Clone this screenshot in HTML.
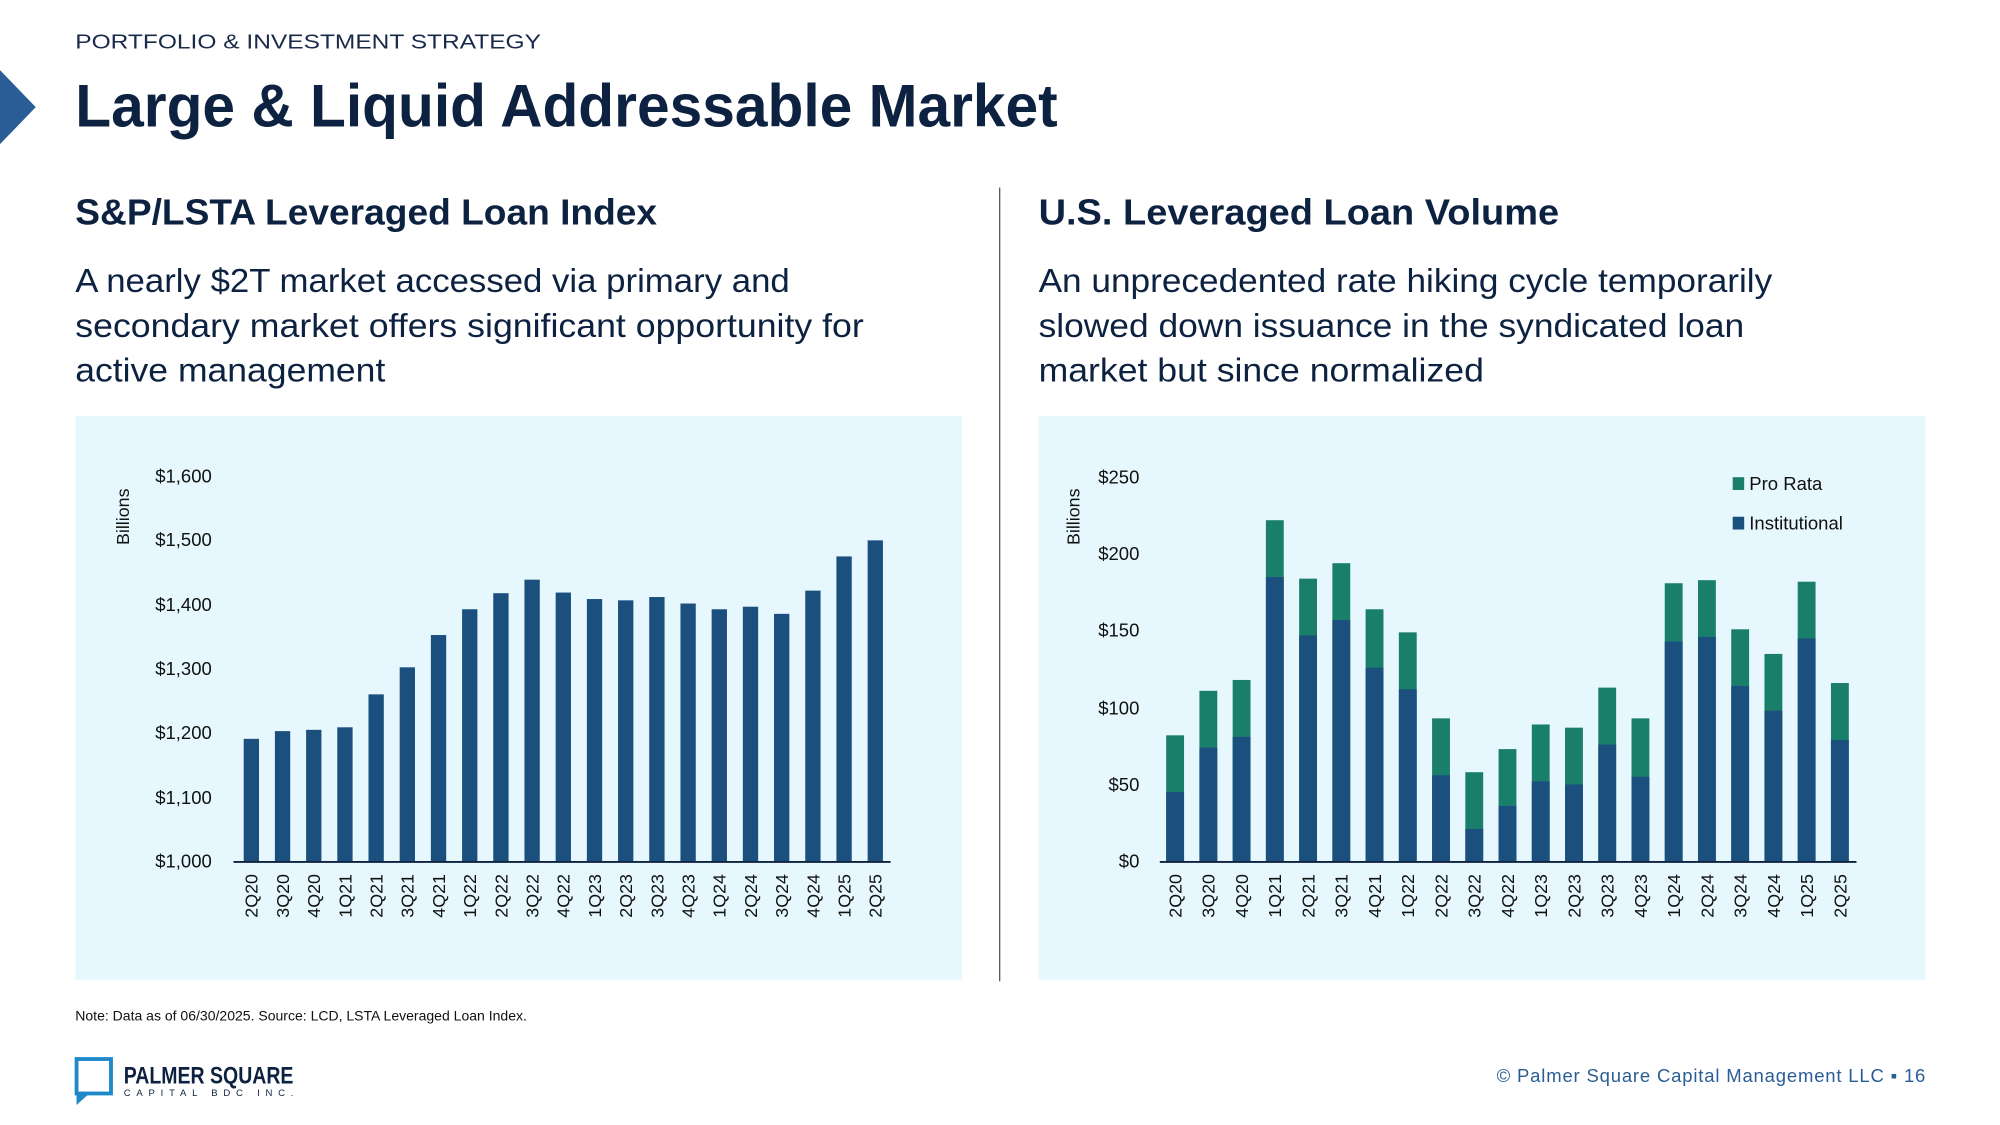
<!DOCTYPE html>
<html><head><meta charset="utf-8"><style>
html,body{margin:0;padding:0;background:#fff;width:2000px;height:1125px;overflow:hidden}
svg{display:block}
text{font-family:"Liberation Sans",sans-serif}
</style></head><body>
<svg width="2000" height="1125" viewBox="0 0 1567.5 881.7" preserveAspectRatio="none" xmlns="http://www.w3.org/2000/svg">
<rect width="1567.5" height="881.7" fill="#fff"/>
<polygon points="0,55 28,84 0,113" fill="#2a5d95"/>
<text x="59" y="38" font-size="16" fill="#1a2a4a" textLength="365" lengthAdjust="spacingAndGlyphs">PORTFOLIO &amp; INVESTMENT STRATEGY</text>
<text x="59" y="99" font-size="47" font-weight="bold" fill="#0d2240" textLength="770" lengthAdjust="spacingAndGlyphs">Large &amp; Liquid Addressable Market</text>
<text x="59" y="176" font-size="28" font-weight="bold" fill="#0d2240" textLength="456" lengthAdjust="spacingAndGlyphs">S&amp;P/LSTA Leveraged Loan Index</text>
<text x="814" y="176" font-size="28" font-weight="bold" fill="#0d2240" textLength="408" lengthAdjust="spacingAndGlyphs">U.S. Leveraged Loan Volume</text>
<g font-size="26" fill="#0d2240">
<text x="59" y="229" textLength="560" lengthAdjust="spacingAndGlyphs">A nearly $2T market accessed via primary and</text>
<text x="59" y="264" textLength="618" lengthAdjust="spacingAndGlyphs">secondary market offers significant opportunity for</text>
<text x="59" y="299" textLength="243" lengthAdjust="spacingAndGlyphs">active management</text>
<text x="814" y="229" textLength="575" lengthAdjust="spacingAndGlyphs">An unprecedented rate hiking cycle temporarily</text>
<text x="814" y="264" textLength="553" lengthAdjust="spacingAndGlyphs">slowed down issuance in the syndicated loan</text>
<text x="814" y="299" textLength="349" lengthAdjust="spacingAndGlyphs">market but since normalized</text>
</g>
<line x1="783.5" y1="147" x2="783.5" y2="769" stroke="#555" stroke-width="1"/>
<rect x="59" y="326" width="695" height="442" fill="#e6f8fd"/>
<rect x="814" y="326" width="695" height="442" fill="#e6f8fd"/>

<!-- left chart -->
<g font-size="14.5" fill="#111" text-anchor="end">
<text x="166" y="378">$1,600</text><text x="166" y="428">$1,500</text><text x="166" y="479">$1,400</text>
<text x="166" y="529">$1,300</text><text x="166" y="579">$1,200</text><text x="166" y="630">$1,100</text><text x="166" y="680">$1,000</text>
</g>
<text transform="translate(101,405) rotate(-90)" font-size="14" fill="#111" text-anchor="middle">Billions</text>
<g fill="#1b4f7e">
<rect x="191" y="579.05" width="12" height="95.95"/><rect x="215.45" y="573" width="12" height="102"/>
<rect x="239.9" y="572" width="12" height="103"/><rect x="264.35" y="570" width="12" height="105"/>
<rect x="288.8" y="544.2" width="12" height="130.8"/><rect x="313.25" y="523" width="12" height="152"/>
<rect x="337.7" y="497.7" width="12" height="177.3"/><rect x="362.15" y="477.5" width="12" height="197.5"/>
<rect x="386.6" y="464.9" width="12" height="210.1"/><rect x="411.05" y="454.3" width="12" height="220.7"/>
<rect x="435.5" y="464.4" width="12" height="210.6"/><rect x="459.95" y="469.5" width="12" height="205.5"/>
<rect x="484.4" y="470.5" width="12" height="204.5"/><rect x="508.85" y="467.9" width="12" height="207.1"/>
<rect x="533.3" y="473" width="12" height="202"/><rect x="557.75" y="477.5" width="12" height="197.5"/>
<rect x="582.2" y="475.5" width="12" height="199.5"/><rect x="606.65" y="481.1" width="12" height="193.9"/>
<rect x="631.1" y="462.9" width="12" height="212.1"/><rect x="655.55" y="436.1" width="12" height="238.9"/>
<rect x="680" y="423.5" width="12" height="251.5"/>
</g>
<line x1="183" y1="675.5" x2="698" y2="675.5" stroke="#0d2240" stroke-width="1.5"/>
<g font-size="14" fill="#111" text-anchor="end">
<text transform="translate(202,685) rotate(-90)">2Q20</text><text transform="translate(226.45,685) rotate(-90)">3Q20</text>
<text transform="translate(250.9,685) rotate(-90)">4Q20</text><text transform="translate(275.35,685) rotate(-90)">1Q21</text>
<text transform="translate(299.8,685) rotate(-90)">2Q21</text><text transform="translate(324.25,685) rotate(-90)">3Q21</text>
<text transform="translate(348.7,685) rotate(-90)">4Q21</text><text transform="translate(373.15,685) rotate(-90)">1Q22</text>
<text transform="translate(397.6,685) rotate(-90)">2Q22</text><text transform="translate(422.05,685) rotate(-90)">3Q22</text>
<text transform="translate(446.5,685) rotate(-90)">4Q22</text><text transform="translate(470.95,685) rotate(-90)">1Q23</text>
<text transform="translate(495.4,685) rotate(-90)">2Q23</text><text transform="translate(519.85,685) rotate(-90)">3Q23</text>
<text transform="translate(544.3,685) rotate(-90)">4Q23</text><text transform="translate(568.75,685) rotate(-90)">1Q24</text>
<text transform="translate(593.2,685) rotate(-90)">2Q24</text><text transform="translate(617.65,685) rotate(-90)">3Q24</text>
<text transform="translate(642.1,685) rotate(-90)">4Q24</text><text transform="translate(666.55,685) rotate(-90)">1Q25</text>
<text transform="translate(691,685) rotate(-90)">2Q25</text>
</g>

<!-- right chart -->
<g font-size="14.5" fill="#111" text-anchor="end">
<text x="893" y="379">$250</text><text x="893" y="439">$200</text><text x="893" y="499">$150</text>
<text x="893" y="560">$100</text><text x="893" y="620">$50</text><text x="893" y="680">$0</text>
</g>
<text transform="translate(846,405) rotate(-90)" font-size="14" fill="#111" text-anchor="middle">Billions</text>
<g fill="#1a7f6a">
<rect x="914" y="576.3" width="14" height="98.7"/><rect x="940.05" y="541.4" width="14" height="133.6"/>
<rect x="966.1" y="532.9" width="14" height="142.1"/><rect x="992.15" y="407.7" width="14" height="267.3"/>
<rect x="1018.2" y="453.5" width="14" height="221.5"/><rect x="1044.25" y="441.4" width="14" height="233.6"/>
<rect x="1070.3" y="477.5" width="14" height="197.5"/><rect x="1096.35" y="495.6" width="14" height="179.4"/>
<rect x="1122.4" y="563" width="14" height="112"/><rect x="1148.45" y="605.2" width="14" height="69.8"/>
<rect x="1174.5" y="587.1" width="14" height="87.9"/><rect x="1200.55" y="567.8" width="14" height="107.2"/>
<rect x="1226.6" y="570.3" width="14" height="104.7"/><rect x="1252.65" y="538.9" width="14" height="136.1"/>
<rect x="1278.7" y="563" width="14" height="112"/><rect x="1304.75" y="457.1" width="14" height="217.9"/>
<rect x="1330.8" y="454.7" width="14" height="220.3"/><rect x="1356.85" y="493.2" width="14" height="181.8"/>
<rect x="1382.9" y="512.5" width="14" height="162.5"/><rect x="1408.95" y="455.9" width="14" height="219.1"/>
<rect x="1435" y="535.3" width="14" height="139.7"/>
</g>
<g fill="#1b4f7e">
<rect x="914" y="620.8" width="14" height="54.2"/><rect x="940.05" y="585.9" width="14" height="89.1"/>
<rect x="966.1" y="577.5" width="14" height="97.5"/><rect x="992.15" y="452.3" width="14" height="222.7"/>
<rect x="1018.2" y="498" width="14" height="177"/><rect x="1044.25" y="486" width="14" height="189"/>
<rect x="1070.3" y="523.3" width="14" height="151.7"/><rect x="1096.35" y="540.2" width="14" height="134.8"/>
<rect x="1122.4" y="607.6" width="14" height="67.4"/><rect x="1148.45" y="649.7" width="14" height="25.3"/>
<rect x="1174.5" y="631.7" width="14" height="43.3"/><rect x="1200.55" y="612.4" width="14" height="62.6"/>
<rect x="1226.6" y="614.8" width="14" height="60.2"/><rect x="1252.65" y="583.5" width="14" height="91.5"/>
<rect x="1278.7" y="608.8" width="14" height="66.2"/><rect x="1304.75" y="502.8" width="14" height="172.2"/>
<rect x="1330.8" y="499.2" width="14" height="175.8"/><rect x="1356.85" y="537.7" width="14" height="137.3"/>
<rect x="1382.9" y="557" width="14" height="118"/><rect x="1408.95" y="500.4" width="14" height="174.6"/>
<rect x="1435" y="579.9" width="14" height="95.1"/>
</g>
<line x1="909" y1="675.5" x2="1455" y2="675.5" stroke="#0d2240" stroke-width="1.5"/>
<g font-size="14" fill="#111" text-anchor="end">
<text transform="translate(926,685) rotate(-90)">2Q20</text><text transform="translate(952.05,685) rotate(-90)">3Q20</text>
<text transform="translate(978.1,685) rotate(-90)">4Q20</text><text transform="translate(1004.15,685) rotate(-90)">1Q21</text>
<text transform="translate(1030.2,685) rotate(-90)">2Q21</text><text transform="translate(1056.25,685) rotate(-90)">3Q21</text>
<text transform="translate(1082.3,685) rotate(-90)">4Q21</text><text transform="translate(1108.35,685) rotate(-90)">1Q22</text>
<text transform="translate(1134.4,685) rotate(-90)">2Q22</text><text transform="translate(1160.45,685) rotate(-90)">3Q22</text>
<text transform="translate(1186.5,685) rotate(-90)">4Q22</text><text transform="translate(1212.55,685) rotate(-90)">1Q23</text>
<text transform="translate(1238.6,685) rotate(-90)">2Q23</text><text transform="translate(1264.65,685) rotate(-90)">3Q23</text>
<text transform="translate(1290.7,685) rotate(-90)">4Q23</text><text transform="translate(1316.75,685) rotate(-90)">1Q24</text>
<text transform="translate(1342.8,685) rotate(-90)">2Q24</text><text transform="translate(1368.85,685) rotate(-90)">3Q24</text>
<text transform="translate(1394.9,685) rotate(-90)">4Q24</text><text transform="translate(1420.95,685) rotate(-90)">1Q25</text>
<text transform="translate(1447,685) rotate(-90)">2Q25</text>
</g>
<rect x="1358" y="374" width="9" height="10" fill="#1a7f6a"/>
<rect x="1358" y="405" width="9" height="10" fill="#1b4f7e"/>
<text x="1371" y="384" font-size="14.5" fill="#111">Pro Rata</text>
<text x="1371" y="415" font-size="14.5" fill="#111">Institutional</text>

<text x="59" y="800" font-size="11" fill="#111">Note: Data as of 06/30/2025. Source: LCD, LSTA Leveraged Loan Index.</text>
<!-- logo -->
<rect x="60" y="830" width="27" height="27" fill="none" stroke="#1e88c8" stroke-width="3"/>
<polygon points="60,857 70,857 60,866" fill="#1e88c8"/>
<text x="97" y="849" font-size="19" font-weight="bold" fill="#0d2240" textLength="133" lengthAdjust="spacingAndGlyphs">PALMER SQUARE</text>
<text x="97" y="859" font-size="7.5" fill="#0d2240" textLength="133" lengthAdjust="spacing">CAPITAL BDC INC.</text>
<text x="1173" y="848" font-size="14.5" fill="#2a5d95" textLength="336" lengthAdjust="spacing">© Palmer Square Capital Management LLC  ▪  16</text>
</svg>
</body></html>
